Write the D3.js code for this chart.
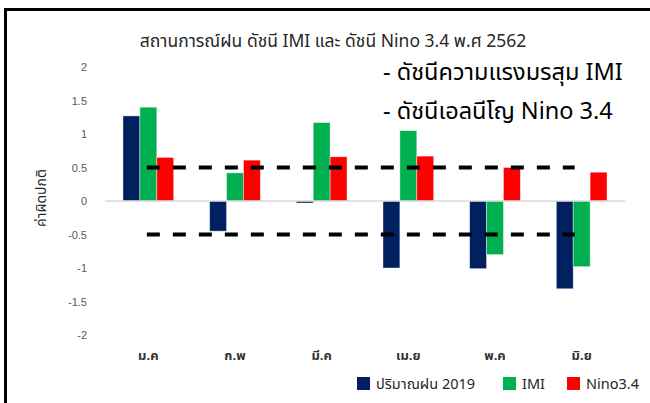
<!DOCTYPE html>
<html>
<head>
<meta charset="utf-8">
<style>
  body { margin: 0; background: #fff; }
  svg { display: block; }
  text { font-family: Tahoma, "Leelawadee UI", "Noto Sans Thai", "Noto Sans", sans-serif; }
</style>
</head>
<body>
<svg width="650" height="403"></svg>
<script src="https://d3js.org/d3.v7.min.js"></script>
<script>
  var svg = d3.select("svg");

  var months = ["ม.ค", "ก.พ", "มี.ค", "เม.ย", "พ.ค", "มิ.ย"];
  var seriesNames = ["ปริมาณฝน 2019", "IMI", "Nino3.4"];
  var rain2019 = [1.27, -0.45, -0.03, -1.0, -1.01, -1.31];
  var imi = [1.40, 0.42, 1.17, 1.05, -0.80, -0.98];
  var nino34 = [0.65, 0.61, 0.66, 0.67, 0.50, 0.43];
  var yTicks = [2, 1.5, 1, 0.5, 0, -0.5, -1, -1.5, -2];
  var thresholds = [0.5, -0.5];
  var colors = ["#002060", "#00b050", "#ff0000"];

  var data = months.map(function(m, i) {
    return { month: m, values: [rain2019[i], imi[i], nino34[i]] };
  });

  // frame (top + left edges only)
  svg.append("path")
      .attr("d", "M5.5,410V9.5H660")
      .attr("fill", "none")
      .attr("stroke", "#000")
      .attr("stroke-width", 3);

  var x = d3.scaleBand().domain(months).range([105, 625])
      .paddingInner(0.415).paddingOuter(0.2075);
  var x1 = d3.scaleBand().domain(d3.range(3)).range([0, x.bandwidth()]);
  var y = d3.scaleLinear().domain([-2, 2]).range([335, 67]);

  // title
  svg.append("text")
      .attr("x", 333).attr("y", 47)
      .attr("text-anchor", "middle")
      .attr("font-size", 17.5)
      .attr("fill", "#262626")
      .text("สถานการณ์ฝน ดัชนี IMI และ ดัชนี Nino 3.4 พ.ศ 2562");

  // y axis
  var yAxis = svg.append("g")
      .attr("transform", "translate(92,0)")
      .call(d3.axisLeft(y).tickValues(yTicks).tickSize(0).tickPadding(5)
        .tickFormat(function(d) { return String(d); }));
  yAxis.select(".domain").remove();
  yAxis.selectAll("text")
      .attr("font-size", 11)
      .attr("fill", "#595959")
      .style("font-family", "'Liberation Sans', Arial, sans-serif");

  svg.append("text")
      .attr("transform", "translate(46,198) rotate(-90)")
      .attr("text-anchor", "middle")
      .attr("font-size", 14)
      .attr("fill", "#262626")
      .text("ค่าผิดปกติ");

  // bars
  var groups = svg.append("g").selectAll("g")
      .data(data)
      .join("g")
      .attr("transform", function(d) { return "translate(" + x(d.month) + ",0)"; });

  groups.selectAll("rect")
      .data(function(d) { return d.values; })
      .join("rect")
      .attr("x", function(d, i) { return x1(i); })
      .attr("width", x1.bandwidth())
      .attr("y", function(d) { return y(Math.max(0, d)); })
      .attr("height", function(d) { return Math.abs(y(d) - y(0)); })
      .attr("fill", function(d, i) { return colors[i]; })
      .attr("stroke", "rgba(255,255,255,0.5)")
      .attr("stroke-width", 0.8);

  // zero line
  svg.append("line")
      .attr("x1", x.range()[0]).attr("x2", x.range()[1])
      .attr("y1", y(0)).attr("y2", y(0))
      .attr("stroke", "#d9d9d9")
      .attr("stroke-width", 1.5);

  // dashed threshold lines
  var dashStart = x(months[0]) + x.bandwidth() / 2 - 1.5;
  var dashEnd = x(months[months.length - 1]) + x.bandwidth() / 2 - 7;
  svg.append("g").selectAll("line")
      .data(thresholds)
      .join("line")
      .attr("x1", dashStart).attr("x2", dashEnd)
      .attr("y1", function(d) { return y(d); })
      .attr("y2", function(d) { return y(d); })
      .attr("stroke", "#000")
      .attr("stroke-width", 4)
      .attr("stroke-dasharray", "13,13");

  // category labels
  var xAxis = svg.append("g")
      .attr("transform", "translate(0,351)")
      .call(d3.axisBottom(x).tickSize(0).tickPadding(0));
  xAxis.select(".domain").remove();
  xAxis.selectAll("text")
      .attr("font-size", 13)
      .attr("font-weight", "bold")
      .attr("fill", "#333");

  // annotation
  var notes = ["- ดัชนีความแรงมรสุม IMI", "- ดัชนีเอลนีโญ Nino 3.4"];
  svg.append("g").selectAll("text")
      .data(notes)
      .join("text")
      .attr("x", 383)
      .attr("y", function(d, i) { return 80 + i * 39; })
      .attr("font-size", 23.5)
      .attr("fill", "#000")
      .text(function(d) { return d; });

  // legend
  var legendX = [357, 503, 567];
  var legend = svg.append("g").selectAll("g")
      .data(seriesNames)
      .join("g")
      .attr("transform", function(d, i) { return "translate(" + legendX[i] + ",377)"; });
  legend.append("rect")
      .attr("width", 13).attr("height", 13)
      .attr("fill", function(d, i) { return colors[i]; });
  legend.append("text")
      .attr("x", 19).attr("y", 11.5)
      .attr("font-size", 14.5)
      .attr("fill", "#262626")
      .text(function(d) { return d; });
</script>
</body>
</html>
